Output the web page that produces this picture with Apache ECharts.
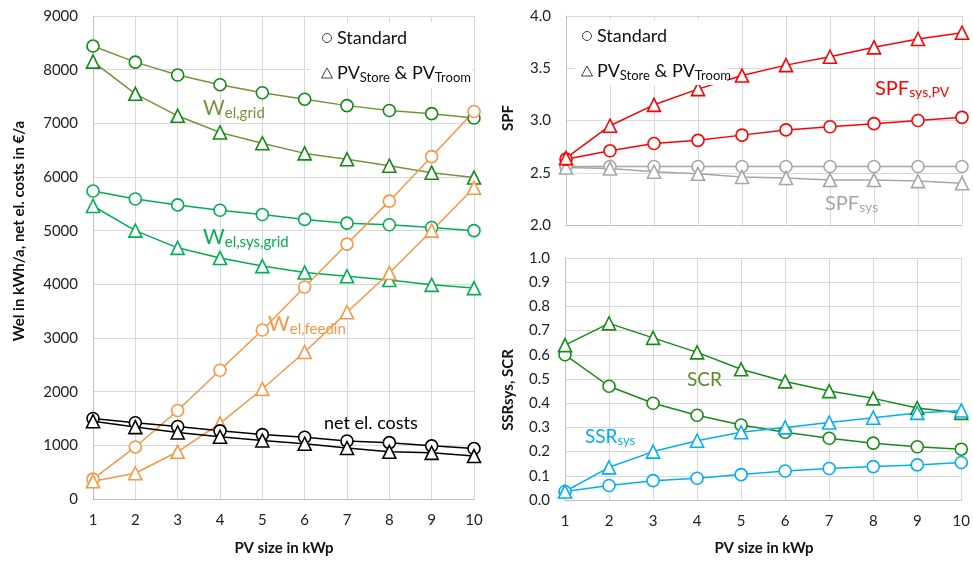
<!DOCTYPE html>
<html><head><meta charset="utf-8">
<script src="https://cdn.jsdelivr.net/npm/echarts@6/dist/echarts.min.js"></script>
<style>html,body{margin:0;padding:0;background:#fff}#c{width:973px;height:561px}</style>
</head><body><div id="c"></div>
<script>
const pvSize = ['1','2','3','4','5','6','7','8','9','10'];
const leftTicks = [0,1000,2000,3000,4000,5000,6000,7000,8000,9000];
const wGridStd    = [8440,8140,7900,7720,7570,7450,7330,7240,7180,7100];
const wGridPV     = [8150,7550,7140,6830,6630,6440,6330,6210,6080,5990];
const wSysGridStd = [5740,5590,5480,5380,5300,5210,5140,5110,5060,5000];
const wSysGridPV  = [5460,5000,4680,4490,4340,4220,4150,4080,3990,3930];
const wFeedinStd  = [370,970,1650,2400,3150,3950,4750,5550,6380,7220];
const wFeedinPV   = [330,480,880,1410,2050,2740,3480,4210,5000,5800];
const costStd     = [1500,1420,1350,1270,1200,1150,1080,1050,990,940];
const costPV      = [1450,1340,1240,1160,1090,1030,950,880,860,800];
const spfSysPVStd = [2.63,2.71,2.78,2.81,2.86,2.91,2.94,2.97,3.00,3.03];
const spfSysPVPV  = [2.64,2.95,3.15,3.30,3.43,3.53,3.61,3.70,3.78,3.84];
const spfSysStd   = [2.56,2.56,2.56,2.56,2.56,2.56,2.56,2.56,2.56,2.56];
const spfSysPV    = [2.55,2.54,2.51,2.49,2.46,2.45,2.43,2.43,2.42,2.40];
const scrStd      = [0.60,0.47,0.40,0.35,0.31,0.28,0.255,0.235,0.22,0.21];
const scrPV       = [0.64,0.73,0.67,0.61,0.54,0.49,0.45,0.42,0.38,0.36];
const ssrStd      = [0.035,0.06,0.08,0.09,0.105,0.12,0.13,0.138,0.145,0.155];
const ssrPV       = [0.035,0.135,0.20,0.245,0.28,0.30,0.32,0.34,0.36,0.37];

const FONT = 'Lato, "Open Sans", sans-serif';
const GRIDC = '#d9d9d9', AXC = '#bfbfbf', TXT = '#222';

function mk(name, data, gi, lineColor, markColor, sym) {
  return {
    name, type: 'line', data, xAxisIndex: gi, yAxisIndex: gi,
    symbol: sym, symbolSize: sym === 'circle' ? 12 : 13,
    showSymbol: true, animation: false,
    lineStyle: { color: lineColor, width: 1.5 },
    itemStyle: { color: '#fff', borderColor: markColor, borderWidth: 1.6 },
    emphasis: { disabled: true }, z: 3
  };
}
function xAx(gi, showLabels) {
  return {
    type: 'category', data: pvSize, gridIndex: gi, boundaryGap: false,
    axisLine: { show: true, lineStyle: { color: AXC, width: 1 } },
    axisTick: { show: false },
    axisLabel: { show: showLabels, color: TXT, fontSize: 15, fontFamily: FONT, margin: 14 },
    splitLine: { show: true, lineStyle: { color: GRIDC, width: 1 } }
  };
}
function yAx(gi, min, max, interval, dec) {
  return {
    type: 'value', gridIndex: gi, min, max, interval,
    axisLine: { show: true, lineStyle: { color: AXC, width: 1 } },
    axisTick: { show: false },
    axisLabel: { color: TXT, fontSize: 15, fontFamily: FONT, margin: 15,
      formatter: v => dec ? v.toFixed(1) : String(v) },
    splitLine: { show: true, lineStyle: { color: GRIDC, width: 1 } }
  };
}
function txt(x, y, text, opts) {
  return Object.assign({ type: 'text', x, y, z: 100, silent: true,
    style: Object.assign({ text, fill: TXT, fontFamily: FONT, fontSize: 15,
      align: 'left', verticalAlign: 'middle' }, opts || {}) });
}
function sub(x, y, main, s, color, mf, sf, pad) {
  return txt(x, y, '{m|' + main + '}{s|' + s + '}', {
    fill: color,
    rich: {
      m: { fontSize: mf, fontFamily: FONT, fill: color, verticalAlign: 'top' },
      s: { fontSize: sf, fontFamily: FONT, fill: color, padding: [pad, 0, 0, 0], verticalAlign: 'top' }
    }
  });
}
function legendBox(x0, y0, w, h, ix, y1, y2) {
  return [
    { type: 'rect', z: 90, silent: true, shape: { x: x0, y: y0, width: w, height: h },
      style: { fill: '#fff' } },
    { type: 'circle', z: 100, silent: true, shape: { cx: ix, cy: y1, r: 4.5 },
      style: { fill: '#fff', stroke: '#404040', lineWidth: 1 } },
    { type: 'polygon', z: 100, silent: true,
      shape: { points: [[ix - 5.5, y2 + 5], [ix + 5.5, y2 + 5], [ix, y2 - 5]] },
      style: { fill: '#fff', stroke: '#404040', lineWidth: 1 } },
    txt(ix + 10, y1, 'Standard', { fontSize: 18, fill: '#111' }),
    txt(ix + 10, y2 + 1, '{m|PV}{s|Store}{m| & PV}{s|Troom}', {
      fill: '#111',
      rich: {
        m: { fontSize: 18, fontFamily: FONT, fill: '#111', verticalAlign: 'top' },
        s: { fontSize: 13, fontFamily: FONT, fill: '#111', padding: [7, 0, 0, 0], verticalAlign: 'top' }
      }
    })
  ];
}

const option = {
  backgroundColor: '#fff',
  animation: false,
  grid: [
    { left: 93, right: 499, top: 16, bottom: 62 },
    { left: 566, right: 11, top: 16, bottom: 336 },
    { left: 565, right: 11, top: 258, bottom: 61 }
  ],
  xAxis: [xAx(0, true), xAx(1, false), xAx(2, true)],
  yAxis: [yAx(0, 0, 9000, 1000, false), yAx(1, 2, 4, 0.5, true), yAx(2, 0, 1, 0.1, true)],
  series: [
    mk('W_el,grid Standard', wGridStd, 0, '#77933c', '#118a11', 'circle'),
    mk('W_el,grid PV', wGridPV, 0, '#77933c', '#118a11', 'triangle'),
    mk('W_el,sys,grid Standard', wSysGridStd, 0, '#00b050', '#00b050', 'circle'),
    mk('W_el,sys,grid PV', wSysGridPV, 0, '#00b050', '#00b050', 'triangle'),
    mk('W_el,feedin Standard', wFeedinStd, 0, '#f79646', '#f79646', 'circle'),
    mk('W_el,feedin PV', wFeedinPV, 0, '#f79646', '#f79646', 'triangle'),
    mk('net el. costs Standard', costStd, 0, '#000', '#000', 'circle'),
    mk('net el. costs PV', costPV, 0, '#000', '#000', 'triangle'),
    mk('SPF_sys Standard', spfSysStd, 1, '#a6a6a6', '#a6a6a6', 'circle'),
    mk('SPF_sys PV', spfSysPV, 1, '#a6a6a6', '#a6a6a6', 'triangle'),
    mk('SPF_sys,PV Standard', spfSysPVStd, 1, '#ff0000', '#ff0000', 'circle'),
    mk('SPF_sys,PV PV', spfSysPVPV, 1, '#ff0000', '#ff0000', 'triangle'),
    mk('SCR Standard', scrStd, 2, '#168c16', '#168c16', 'circle'),
    mk('SCR PV', scrPV, 2, '#168c16', '#168c16', 'triangle'),
    mk('SSR_sys Standard', ssrStd, 2, '#00b0f0', '#00b0f0', 'circle'),
    mk('SSR_sys PV', ssrPV, 2, '#00b0f0', '#00b0f0', 'triangle')
  ],
  graphic: [
    txt(19, 231, 'Wel in kWh/a, net el. costs in €/a', { fontWeight: 'bold', align: 'center', fill: '#111' }),
    txt(284, 548, 'PV size in kWp', { fontWeight: 'bold', align: 'center', fill: '#111' }),
    txt(764, 548, 'PV size in kWp', { fontWeight: 'bold', align: 'center', fill: '#111' }),
    Object.assign(txt(508, 118, 'SPF', { fontWeight: 'bold', align: 'center', fill: '#111' }), { rotation: Math.PI / 2 }),
    Object.assign(txt(508, 390, 'SSRsys, SCR', { fontWeight: 'bold', align: 'center', fill: '#111' }), { rotation: Math.PI / 2 }),
    sub(203, 109, 'W', 'el,grid', '#77933c', 21, 15, 8),
    sub(203, 238, 'W', 'el,sys,grid', '#00b050', 21, 15, 8),
    sub(268, 325, 'W', 'el,feedin', '#f79646', 21, 15, 8),
    txt(324, 423, 'net el. costs', { fontSize: 18, fill: '#000' }),
    sub(875, 89, 'SPF', 'sys,PV', '#ff0000', 20, 14, 7),
    sub(825, 204, 'SPF', 'sys', '#a6a6a6', 20, 14, 7),
    txt(687, 380, 'SCR', { fontSize: 19, fill: '#5b8c2a' }),
    sub(585, 437, 'SSR', 'sys', '#00b0f0', 19, 13, 7)
  ].concat(legendBox(310, 22, 162, 66, 327, 38, 73))
   .concat(legendBox(575, 20, 152, 65, 587, 36, 71))
};
option.graphic[0].rotation = Math.PI / 2;

const chart = echarts.init(document.getElementById('c'), null, { renderer: 'canvas' });
chart.setOption(option);
</script></body></html>
